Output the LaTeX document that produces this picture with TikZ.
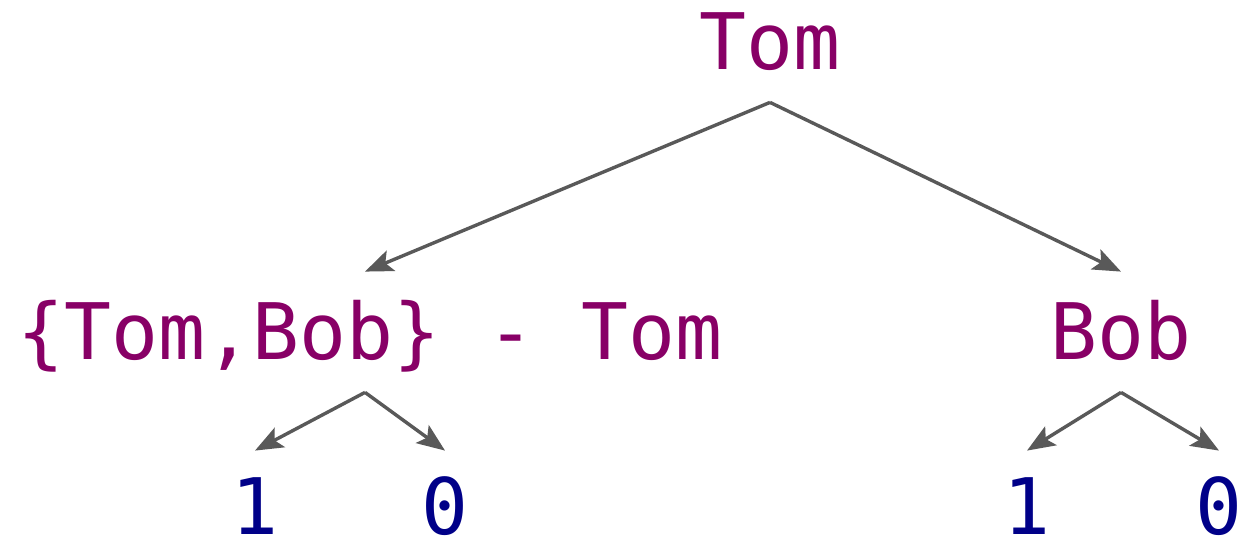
\documentclass[tikz,border=0pt]{standalone}
\usepackage{fontspec}
\setmonofont{DejaVu Sans Mono}
\usepackage{xcolor}
\usepackage{tikz}
\usetikzlibrary{arrows.meta,positioning}
\definecolor{setcol}{RGB}{136,0,102}
\definecolor{bitcol}{RGB}{0,0,136}
\definecolor{arrcol}{RGB}{89,89,89}

\begin{document}
\begin{tikzpicture}[
    x=0.5pt, y=0.5pt,
    lbl/.style={anchor=base, inner xsep=0pt, inner ysep=16pt, text height=28pt, text depth=0pt, font=\fontsize{39}{44}\selectfont\ttfamily},
    setnode/.style={lbl, text=setcol},
    bitnode/.style={lbl, inner ysep=2pt, text height=40pt, text=bitcol},
    arr/.style={-{Stealth[length=14pt, width=11pt, inset=3pt]}, line width=1.7pt, draw=arrcol},
]
    \useasboundingbox (0,0) rectangle (1241,545);

    \node[setnode] (root) at (770, 475) {Tom};
    \node[setnode] (rest) at (370, 185) {\{Tom,Bob\} - Tom};
    \node[setnode] (bob) at (1121, 185) {Bob};

    \node[bitnode] (rest1) at (255, 10) {1};
    \node[bitnode] (rest0) at (445, 10) {0};
    \node[bitnode] (bob1) at (1027, 10) {1};
    \node[bitnode] (bob0) at (1219, 10) {0};

    \draw[arr] (root.south) -- ([xshift=-2.5pt]rest.north);
    \draw[arr] (root.south) -- (bob.north);
    \draw[arr] ([xshift=-2.5pt]rest.south) -- (rest1.north);
    \draw[arr] ([xshift=-2.5pt]rest.south) -- (rest0.north);
    \draw[arr] (bob.south) -- (bob1.north);
    \draw[arr] (bob.south) -- (bob0.north);
\end{tikzpicture}
\end{document}
